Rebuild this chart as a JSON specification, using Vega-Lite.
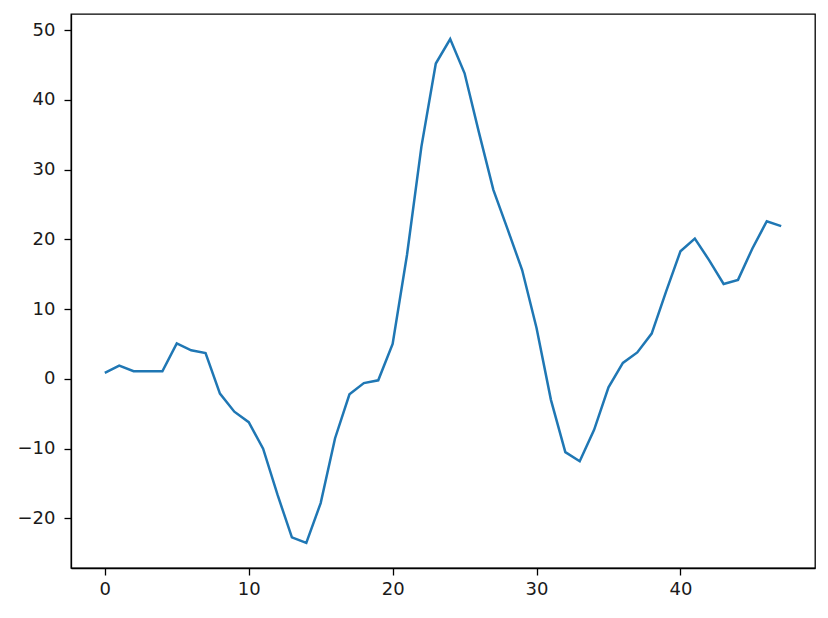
{
  "$schema": "https://vega.github.io/schema/vega-lite/v6.json",
  "autosize": "none",
  "width": 744,
  "height": 554,
  "padding": {"left": 71, "top": 14, "right": 13, "bottom": 50},
  "background": "white",
  "config": {
    "view": {"stroke": "black", "strokeWidth": 1.3},
    "axis": {
      "grid": false,
      "domainColor": "black",
      "domainWidth": 1.3,
      "tickColor": "black",
      "tickWidth": 1.3,
      "tickSize": 7,
      "labelFont": "DejaVu Sans",
      "labelFontSize": 18,
      "labelColor": "#1a1a1a",
      "title": null
    }
  },
  "data": {
    "values": [
      {"x": 0, "y": 0.85}, {"x": 1, "y": 1.9}, {"x": 2, "y": 1.1}, {"x": 3, "y": 1.1},
      {"x": 4, "y": 1.1}, {"x": 5, "y": 5.1}, {"x": 6, "y": 4.1}, {"x": 7, "y": 3.7},
      {"x": 8, "y": -2.1}, {"x": 9, "y": -4.7}, {"x": 10, "y": -6.2}, {"x": 11, "y": -10.0},
      {"x": 12, "y": -16.6}, {"x": 13, "y": -22.7}, {"x": 14, "y": -23.5}, {"x": 15, "y": -17.8},
      {"x": 16, "y": -8.5}, {"x": 17, "y": -2.2}, {"x": 18, "y": -0.6}, {"x": 19, "y": -0.2},
      {"x": 20, "y": 5.0}, {"x": 21, "y": 17.8}, {"x": 22, "y": 33.3}, {"x": 23, "y": 45.2},
      {"x": 24, "y": 48.7}, {"x": 25, "y": 43.8}, {"x": 26, "y": 35.3}, {"x": 27, "y": 27.1},
      {"x": 28, "y": 21.4}, {"x": 29, "y": 15.6}, {"x": 30, "y": 7.3}, {"x": 31, "y": -3.0},
      {"x": 32, "y": -10.5}, {"x": 33, "y": -11.8}, {"x": 34, "y": -7.3}, {"x": 35, "y": -1.2},
      {"x": 36, "y": 2.3}, {"x": 37, "y": 3.8}, {"x": 38, "y": 6.5}, {"x": 39, "y": 12.5},
      {"x": 40, "y": 18.3}, {"x": 41, "y": 20.1}, {"x": 42, "y": 17.0}, {"x": 43, "y": 13.6},
      {"x": 44, "y": 14.2}, {"x": 45, "y": 18.7}, {"x": 46, "y": 22.6}, {"x": 47, "y": 21.9}
    ]
  },
  "mark": {"type": "line", "color": "#1f77b4", "strokeWidth": 2.5, "clip": true},
  "encoding": {
    "x": {
      "field": "x", "type": "quantitative",
      "scale": {"domain": [-2.35, 49.35], "nice": false, "zero": false},
      "axis": {"values": [0, 10, 20, 30, 40], "labelPadding": 5}
    },
    "y": {
      "field": "y", "type": "quantitative",
      "scale": {"domain": [-27.1, 52.3], "nice": false, "zero": false},
      "axis": {"values": [-20, -10, 0, 10, 20, 30, 40, 50], "labelPadding": 9}
    }
  }
}
